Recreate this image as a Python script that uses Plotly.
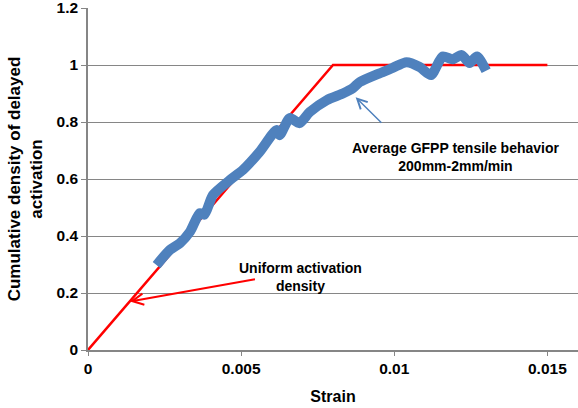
import plotly.graph_objects as go

# Data
uniform_x = [0, 0.008, 0.015]
uniform_y = [0, 1, 1]

gfpp_x = [0.00224, 0.00267, 0.0030, 0.00333, 0.00365, 0.0038, 0.00408, 0.00463, 0.00506,
          0.0056, 0.00616, 0.00626, 0.00659, 0.0069, 0.00724, 0.0078, 0.00832, 0.00865,
          0.00887, 0.0095, 0.00995, 0.0104, 0.01083, 0.0112, 0.01158, 0.0119, 0.0122,
          0.01246, 0.0127, 0.013]
gfpp_y = [0.298, 0.351, 0.375, 0.415, 0.48, 0.475, 0.544, 0.596, 0.632,
          0.695, 0.772, 0.754, 0.814, 0.796, 0.835, 0.877, 0.90, 0.919,
          0.94, 0.97, 0.99, 1.01, 0.993, 0.965, 1.03, 1.02, 1.035,
          1.007, 1.03, 0.98]

x_ticks = [0, 0.005, 0.01, 0.015]
x_tick_labels = ["0", "0.005", "0.01", "0.015"]
y_ticks = [0, 0.2, 0.4, 0.6, 0.8, 1.0, 1.2]
y_tick_labels = ["0", "0.2", "0.4", "0.6", "0.8", "1", "1.2"]

BLUE = "#4F81BD"
RED = "#FF0000"
GRID = "#868686"
FONT = "Liberation Sans"

fig = go.Figure()
fig.add_trace(go.Scatter(x=uniform_x, y=uniform_y, mode="lines",
                         line=dict(color=RED, width=2.5), showlegend=False))
fig.add_trace(go.Scatter(x=gfpp_x, y=gfpp_y, mode="lines",
                         line=dict(color=BLUE, width=10, shape="spline", smoothing=0.7),
                         showlegend=False))

# arrows
fig.add_annotation(x=0.00137, y=0.17, ax=0.0055, ay=0.249, axref="x", ayref="y",
                   xref="x", yref="y", text="", showarrow=True, arrowhead=5,
                   arrowsize=1.1, arrowwidth=2, arrowcolor=RED)
fig.add_annotation(x=0.00874, y=0.887, ax=0.00963, ay=0.792, axref="x", ayref="y",
                   xref="x", yref="y", text="", showarrow=True, arrowhead=5,
                   arrowsize=1.3, arrowwidth=1.5, arrowcolor=BLUE)
# labels
fig.add_annotation(x=0.00695, y=0.256, xref="x", yref="y", showarrow=False,
                   text="<b>Uniform activation<br>density</b>",
                   font=dict(family=FONT, size=14, color="black"))
fig.add_annotation(x=0.0120, y=0.677, xref="x", yref="y", showarrow=False,
                   text="<b>Average GFPP tensile behavior<br>200mm-2mm/min</b>",
                   font=dict(family=FONT, size=14, color="black"))

fig.update_layout(
    width=578, height=408,
    margin=dict(l=88, r=0, t=8, b=58),
    paper_bgcolor="white", plot_bgcolor="white",
    font=dict(family=FONT, size=15.5, color="black"),
    xaxis=dict(range=[0, 0.016], tickvals=x_ticks, ticktext=x_tick_labels,
               automargin=False, ticklabeloverflow="allow",
               showgrid=False, zeroline=False, showline=True, linecolor=GRID, linewidth=1.5,
               ticks="outside", ticklen=4, tickcolor=GRID,
               tickfont=dict(family=FONT, size=15.5, color="black", weight="bold"),
               title=dict(text="<b>Strain</b>", font=dict(family=FONT, size=16), standoff=14)),
    yaxis=dict(range=[0, 1.2001], tickvals=y_ticks, ticktext=y_tick_labels,
               automargin=False, ticklabeloverflow="allow",
               showgrid=True, gridcolor=GRID, gridwidth=1, zeroline=False,
               showline=True, linecolor=GRID, linewidth=1.5,
               ticks="outside", ticklen=5, tickcolor=GRID,
               tickfont=dict(family=FONT, size=15.5, color="black", weight="bold"),
               title=dict(text="<b>Cumulative density of delayed<br>activation</b>",
                          font=dict(family=FONT, size=17), standoff=10)),
)

fig.write_html("out.html", config={"displayModeBar": False},
               post_script="document.body.style.margin='0';")
